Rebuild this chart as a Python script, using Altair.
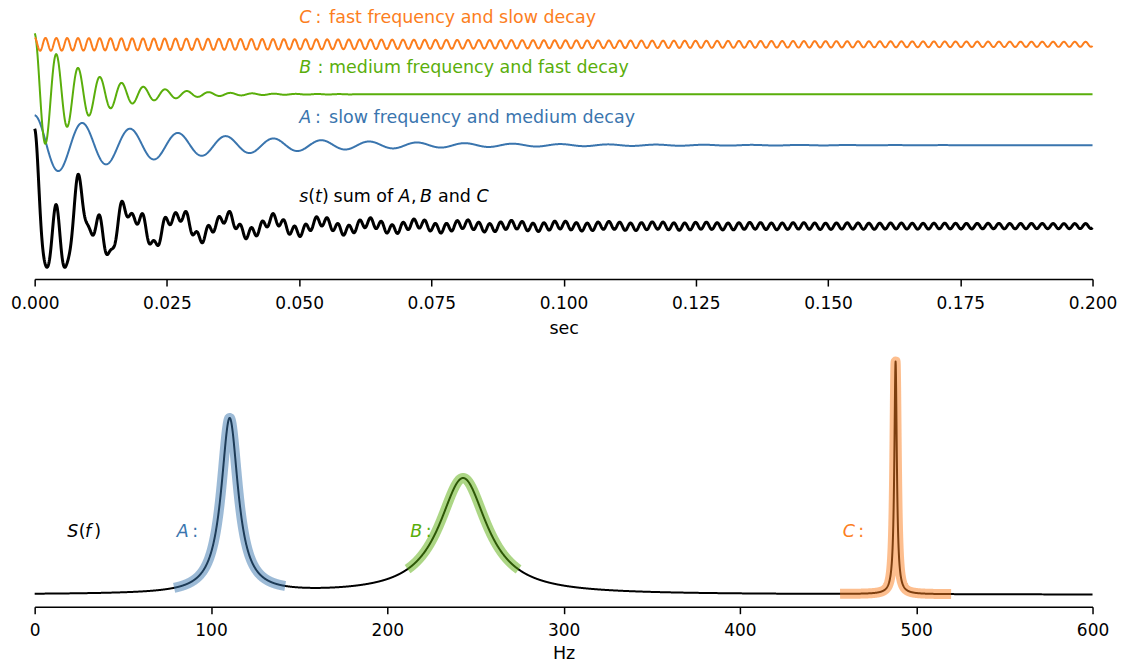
import numpy as np
import pandas as pd
import altair as alt

FONT = "DejaVu Sans"
FS = 17.5
TICK_FS = 17

# ---- components ----
COMP = ["A", "B", "C"]
COLORS = ["#3a75ae", "#5aae0b", "#fc7e1d"]
FREQ_HZ = [110.6, 243.0, 488.2]      # oscillation frequency
AMPL = [30.0, 61.0, 6.5]             # initial amplitude (display units)
DECAY = [33.0, 102.0, 4.8]           # decay rate, 1/s
OFFSET = [134.0, 185.0, 235.0]       # vertical placement of each trace
SUM_OFFSET = 53.0
T_MAX = 0.2
T_TICKS = [0.0, 0.025, 0.05, 0.075, 0.1, 0.125, 0.15, 0.175, 0.2]

# ---- spectrum peaks ----
PEAK_HZ = [110.6, 243.0, 488.3]
PEAK_H = [175.2, 116.5, 232.8]
PEAK_HW = [5.8, 16.5, 0.85]
BAND_HALF = 31.5
F_TICKS = [0, 100, 200, 300, 400, 500, 600]

# ---- annotations ----
TOP_LABEL_T = 0.05
TOP_LABELS = [
    (256.3, COLORS[2], [("C", True, 0), (":", False, 16.5), ("fast frequency and slow decay", False, 30)]),
    (206.0, COLORS[1], [("B", True, 0), (":", False, 18.5), ("medium frequency and fast decay", False, 30)]),
    (156.0, COLORS[0], [("A", True, 0), (":", False, 16), ("slow frequency and medium decay", False, 30)]),
    (77.3, "#000000", [("s", True, 0), ("(", False, 9.1), ("t", True, 15.9), (")", False, 22.8),
                        ("sum of", False, 34.5), ("A", True, 99.5), (",", False, 112),
                        ("B", True, 121), ("and", False, 139), ("C", True, 177.5)]),
]
BOT_LABELS = [
    (18.5, 58.0, "#000000", [("S", True, 0), ("(", False, 11.5), ("f", True, 17.8), (")", False, 27)]),
    (PEAK_HZ[0] - 30, 58.0, COLORS[0], [("A", True, 0), (":", False, 15.5)]),
    (PEAK_HZ[1] - 30, 58.0, COLORS[1], [("B", True, 0), (":", False, 15.5)]),
    (PEAK_HZ[2] - 30, 58.0, COLORS[2], [("C", True, 0), (":", False, 15.5)]),
]

W = 1059
H_TOP = 271
H_BOT = 260
Y_TOP_DOMAIN = [0, 271]
Y_BOT_DOMAIN = [-12, 248]
F_MAX = 600

# ---- build tables ----
t = np.linspace(0, T_MAX, 3001)
rows = []
total = np.zeros_like(t)
for name, f0, a, g, off in zip(COMP, FREQ_HZ, AMPL, DECAY, OFFSET):
    sig = a * np.exp(-g * t) * np.cos(2 * np.pi * f0 * t)
    total += sig
    rows.append(pd.DataFrame({"t": t, "v": off + sig, "s": name}))
sig_df = pd.concat(rows, ignore_index=True)
sum_df = pd.DataFrame({"t": t, "v": SUM_OFFSET + total})

f = np.round(np.arange(0, 6001) * 0.1, 1)
S = np.zeros_like(f)
for fk, hk, wk in zip(PEAK_HZ, PEAK_H, PEAK_HW):
    S += hk / (1 + ((f - fk) / wk) ** 2)
spec_df = pd.DataFrame({"f": f, "S": S})
bands = []
for name, fk in zip(COMP, PEAK_HZ):
    m = np.abs(f - fk) <= BAND_HALF
    bands.append(pd.DataFrame({"f": f[m], "S": S[m], "s": name}))
band_df = pd.concat(bands, ignore_index=True)

px_t = W / T_MAX
px_f = W / F_MAX
top_txt = []
for yv, col, segs in TOP_LABELS:
    for txt, it, dx in segs:
        top_txt.append({"t": TOP_LABEL_T + dx / px_t, "v": yv, "txt": txt, "col": col, "it": it})
top_txt = pd.DataFrame(top_txt)
bot_txt = []
for fx, yv, col, segs in BOT_LABELS:
    for txt, it, dx in segs:
        bot_txt.append({"f": fx + dx / px_f, "S": yv, "txt": txt, "col": col, "it": it})
bot_txt = pd.DataFrame(bot_txt)

# ---- top panel ----
xt = alt.X("t:Q", scale=alt.Scale(domain=[0, T_MAX], nice=False, zero=False),
           axis=alt.Axis(values=T_TICKS, format=".3f", title="sec"))
yt = alt.Y("v:Q", scale=alt.Scale(domain=Y_TOP_DOMAIN, nice=False, zero=False), axis=None)
cscale = alt.Scale(domain=COMP, range=COLORS)

sig_layer = alt.Chart(sig_df).mark_line(strokeWidth=2, strokeJoin="round").encode(
    x=xt, y=yt, color=alt.Color("s:N", scale=cscale, legend=None), detail="s:N")
sum_layer = alt.Chart(sum_df).mark_line(strokeWidth=3, color="black", strokeJoin="round").encode(x=xt, y=yt)


def text_layers(df, xenc, yenc):
    out = []
    for it in (True, False):
        sub = df[df["it"] == it]
        out.append(alt.Chart(sub).mark_text(
            align="left", baseline="alphabetic", font=FONT, fontSize=FS,
            fontStyle="italic" if it else "normal").encode(
            x=xenc, y=yenc, text="txt:N", color=alt.Color("col:N", scale=None)))
    return out

top = alt.layer(sig_layer, sum_layer, *text_layers(top_txt, xt, yt)).properties(width=W, height=H_TOP)

# ---- bottom panel ----
xf = alt.X("f:Q", scale=alt.Scale(domain=[0, F_MAX], nice=False, zero=False),
           axis=alt.Axis(values=F_TICKS, format="d", title="Hz", titlePadding=6))
yf = alt.Y("S:Q", scale=alt.Scale(domain=Y_BOT_DOMAIN, nice=False, zero=False), axis=None)

spec_layer = alt.Chart(spec_df).mark_line(strokeWidth=2, color="black", strokeJoin="round").encode(x=xf, y=yf)
band_layer = alt.Chart(band_df).mark_line(strokeWidth=10, opacity=0.5, strokeCap="butt", strokeJoin="round").encode(
    x=xf, y=yf, color=alt.Color("s:N", scale=cscale, legend=None), detail="s:N")

bottom = alt.layer(spec_layer, band_layer, *text_layers(bot_txt, xf, yf)).properties(width=W, height=H_BOT)

chart = alt.vconcat(top, bottom, spacing=10).properties(
    padding={"left": 1.7, "top": 0, "right": -0.5, "bottom": 0}
).configure_view(stroke=None).configure_axis(
    grid=False, domainColor="black", domainWidth=1.5, tickColor="black", tickWidth=1.5,
    tickSize=7, labelFont=FONT, labelFontSize=TICK_FS, labelColor="black", labelPadding=9,
    labelFlush=False, labelOverlap=False, titleFont=FONT, titleFontSize=FS,
    titleFontWeight="normal", titleColor="black", titlePadding=8
)

chart.save("out.html", embed_options={"renderer": "svg", "actions": False})
